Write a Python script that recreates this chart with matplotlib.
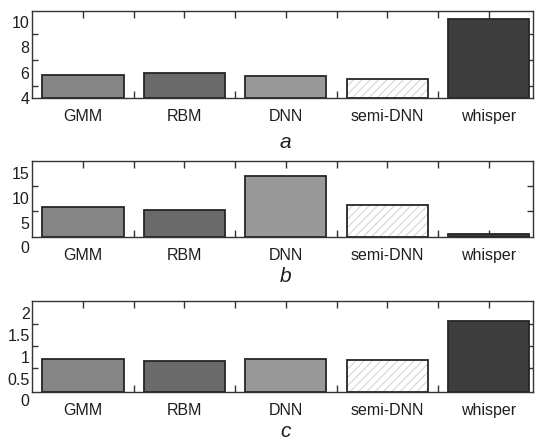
import numpy as np
import matplotlib
matplotlib.use("Agg")
import matplotlib.pyplot as plt
from matplotlib.transforms import offset_copy

plt.rcParams['font.family'] = ['Liberation Sans', 'DejaVu Sans']
plt.rcParams['hatch.linewidth'] = 0.8

categories = ['GMM', 'RBM', 'DNN', 'semi-DNN', 'whisper']
vals_a = [5.85, 5.97, 5.77, 5.52, 10.23]
vals_b = [8.2, 7.7, 14.4, 8.7, 2.85]
vals_c = [0.963, 0.918, 0.963, 0.94, 1.83]
panel_letters = ['a', 'b', 'c']

yticks_a = [4, 6, 8, 10]
yticks_b = [0, 5, 10, 15]
yticks_c = [0, 0.5, 1, 1.5, 2]
ylabels_a = ['4', '6', '8', '10']
ylabels_b = ['0', '5', '10', '15']
ylabels_c = ['0', '0.5', '1', '1.5', '2']
ymarks_a = [5, 7, 9]
ymarks_b = [7.5, 12.5]
ymarks_c = [0.75, 1.25, 1.75]

face_colors = ['#858585', '#6a6a6a', '#999999', '#ffffff', '#3d3d3d']
hatches = [None, None, None, '////', None]
edge = '#262626'
text_col = '#1e1e1e'
fs = 11.5

W, H = 539, 441
fig = plt.figure(figsize=(W / 100, H / 100), dpi=100)
fig.patch.set_facecolor('white')

# (top_px, bottom_px, ylim)
layout = [
    (10.7, 98.3, (4.0, 10.85)),
    (160.7, 236.7, (2.3, 17.5)),
    (301.0, 391.7, (0.22, 2.28)),
]
left_px, right_px = 32.3, 533.3
letter_baseline = [148.0, 282.0, 437.0]

data = [vals_a, vals_b, vals_c]
ticks = [yticks_a, yticks_b, yticks_c]
tlabels = [ylabels_a, ylabels_b, ylabels_c]
marks = [ymarks_a, ymarks_b, ymarks_c]

x = np.arange(len(categories))
for i in range(3):
    top, bot, ylim = layout[i]
    ax = fig.add_axes([left_px / W, 1 - bot / H, (right_px - left_px) / W, (bot - top) / H])
    ax.set_xlim(-0.5, 4.44)
    ax.set_ylim(*ylim)
    ax.set_axisbelow(True)
    base = ylim[0]
    vals = np.array(data[i])
    for j in range(len(categories)):
        if hatches[j]:
            ax.bar(x[j], vals[j] - base, bottom=base, width=0.8, color='white',
                   edgecolor='#d6d6d6', hatch=hatches[j], linewidth=0, zorder=1)
            ax.bar(x[j], vals[j] - base, bottom=base, width=0.8, facecolor='none',
                   edgecolor=edge, linewidth=1.3, zorder=1.1)
        else:
            ax.bar(x[j], vals[j] - base, bottom=base, width=0.8, color=face_colors[j],
                   edgecolor=edge, linewidth=1.3, zorder=1)
    # x ticks
    ax.set_xticks(x)
    ax.set_xticklabels(categories, fontsize=fs, color=text_col)
    ax.set_xticks(x[:-1] + 0.5, minor=True)
    ax.tick_params(axis='x', which='both', direction='in', length=5, width=1.0,
                   top=True, bottom=True, color='#333333')
    ax.tick_params(axis='x', which='major', pad=8.0)
    # y ticks
    shown = [(t, l) for t, l in zip(ticks[i], tlabels[i]) if ylim[0] - 1e-9 <= t <= ylim[1]]
    hidden = [(t, l) for t, l in zip(ticks[i], tlabels[i]) if t < ylim[0] - 1e-9]
    ax.set_yticks([t for t, _ in shown])
    ax.set_yticklabels([l for _, l in shown], fontsize=fs, color=text_col)
    ax.set_yticks(marks[i], minor=True)
    ax.tick_params(axis='y', which='major', length=0, pad=2)
    ax.tick_params(axis='y', which='minor', direction='in', length=4, width=1.0,
                   left=True, right=True, color='#333333')
    tr = offset_copy(ax.get_yaxis_transform(), fig=fig, x=-2, y=0, units='points')
    for t, l in hidden:
        ax.text(0, t, l, transform=tr, ha='right', va='center', fontsize=fs,
                color=text_col, clip_on=False)
    for s in ax.spines.values():
        s.set_color('#333333')
        s.set_linewidth(1.0)
    # panel letter
    fig.text((left_px + (2 + 0.5) / 4.94 * (right_px - left_px)) / W, 1 - letter_baseline[i] / H,
             panel_letters[i], ha='center', va='baseline', fontsize=15, style='italic',
             color=text_col)

fig.savefig('out.png', dpi=100, facecolor='white')
